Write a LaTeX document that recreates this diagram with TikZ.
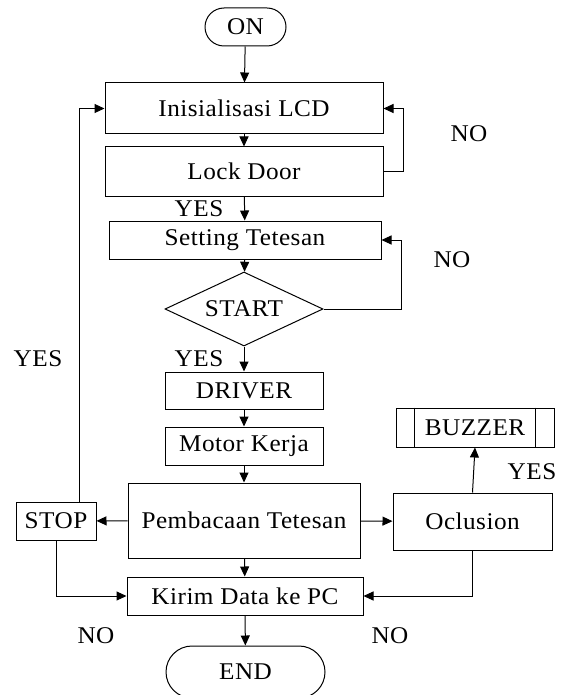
\documentclass[tikz,border=0pt]{standalone}
\usepackage{fontspec}
\setmainfont{Liberation Serif}[FakeStretch=1.05, LetterSpace=2]
\usetikzlibrary{arrows.meta,shapes.geometric}

\begin{document}
\begin{tikzpicture}[x=1pt, y=-1pt,
    font=\fontsize{24}{28}\selectfont,
    line/.style={line width=1pt},
    arr/.style={line, -{Triangle[length=10pt,width=9pt]}},
    box/.style={draw, line, inner sep=0pt},
    terminal/.style={box, rounded corners=#1}]

    \useasboundingbox (0,0) rectangle (565,695);

    % Main column
    \node[terminal=19, minimum width=81, minimum height=38] (on) at (245.5,27) {ON};
    \node[box, minimum width=278, minimum height=51] (init) at (244,108.5) {Inisialisasi LCD};
    \node[box, minimum width=278, minimum height=49] (lock) at (244,171.5) {Lock Door};
    \node[box, minimum width=272, minimum height=38] (setting) at (245,240) {Setting Tetesan};
    \node[box, diamond, aspect=2.135, minimum width=158, minimum height=74] (start) at (244,309) {START};
    \node[box, minimum width=158, minimum height=37] (driver) at (244,390.5) {DRIVER};
    \node[box, minimum width=158, minimum height=38] (motor) at (244,446) {Motor Kerja};
    \node[box, minimum width=232, minimum height=75] (baca) at (244,520.5) {Pembacaan Tetesan};
    \node[box, minimum width=236, minimum height=38] (kirim) at (245,596) {Kirim Data ke PC};
    \node[terminal=26, minimum width=159, minimum height=52] (end) at (245.5,672) {END};

    % Side boxes
    \node[box, minimum width=80, minimum height=38] (stop) at (56,521) {STOP};
    \node[box, minimum width=159, minimum height=57] (oclusion) at (472.5,521.5) {Oclusion};
    \node[box, minimum width=158, minimum height=39] (buzzer) at (475,427.5) {BUZZER};
    \draw[line] ([xshift=19]buzzer.north west) -- ([xshift=19]buzzer.south west);
    \draw[line] ([xshift=-19]buzzer.north east) -- ([xshift=-19]buzzer.south east);

    % Labels
    \foreach \i/\x/\y/\txt in {1/199/209/YES, 2/469/134/NO, 3/452/260/NO, 4/199/359/YES,
                               5/38/359/YES, 6/532/472/YES, 7/96/636/NO, 8/390/636/NO}
        {
            \node[inner sep=0pt] (lbl\i) at (\x,\y) {\txt};
        }

    % Flow
    \draw[arr] (on) -- (init);
    \draw[arr] (init) -- (lock);
    \draw[arr] (lock) -- (setting);
    \draw[arr] (setting) -- (start);
    \draw[arr] (start) -- (driver);
    \draw[arr] (driver) -- (motor);
    \draw[arr] (motor) -- (baca);
    \draw[arr] (baca) -- (kirim);
    \draw[arr] (kirim) -- (end);

    \draw[arr] (lock.east) -- ++(20,0) |- (init.east);
    \draw[arr] (start.east) -- ++(78,0) |- (setting.east);

    \draw[arr] (baca) -- (stop);
    \draw[arr] (baca) -- (oclusion);
    \draw[arr] ([xshift=23]stop.north) |- (init.west);
    \draw[arr] (stop.south) |- (kirim.west);
    \draw[arr] (oclusion.north) -- (buzzer.south);
    \draw[arr] (oclusion.south) |- (kirim.east);

\end{tikzpicture}
\end{document}
